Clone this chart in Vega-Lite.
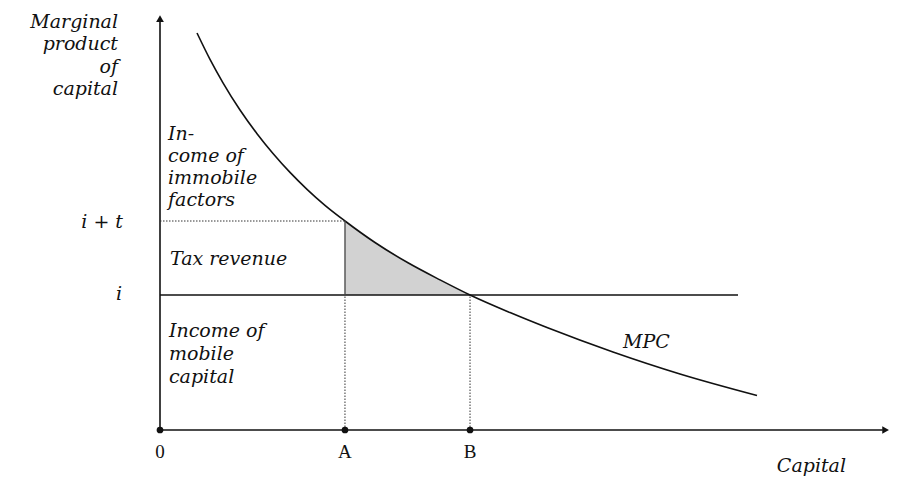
{
  "$schema": "https://vega.github.io/schema/vega-lite/v6.json",
  "width": 730,
  "height": 416,
  "autosize": {"type": "none"},
  "padding": {"left": 160, "top": 14, "right": 11, "bottom": 49},
  "background": "white",
  "config": {"view": {"stroke": null}},
  "datasets": {
    "curve": [
      {"k": 5.07, "mpk": 95.43},
      {"k": 6.85, "mpk": 89.09},
      {"k": 8.63, "mpk": 83.46},
      {"k": 10.96, "mpk": 76.92},
      {"k": 13.29, "mpk": 71.23},
      {"k": 15.48, "mpk": 66.47},
      {"k": 17.81, "mpk": 61.92},
      {"k": 20.14, "mpk": 57.86},
      {"k": 22.60, "mpk": 54.01},
      {"k": 25.34, "mpk": 50.24},
      {"k": 29.45, "mpk": 45.07},
      {"k": 33.97, "mpk": 40.19},
      {"k": 38.36, "mpk": 36.08},
      {"k": 42.47, "mpk": 32.45},
      {"k": 47.95, "mpk": 28.22},
      {"k": 53.01, "mpk": 24.62},
      {"k": 62.05, "mpk": 18.75},
      {"k": 71.23, "mpk": 13.46},
      {"k": 81.78, "mpk": 8.29}
    ],
    "shade": [
      {"k": 25.34, "mpk": 50.24},
      {"k": 29.45, "mpk": 45.07},
      {"k": 33.97, "mpk": 40.19},
      {"k": 38.36, "mpk": 36.08},
      {"k": 42.47, "mpk": 32.45}
    ],
    "solidLines": [
      {"x": 0, "x2": 0, "y": 0, "y2": 98.5},
      {"x": 0, "x2": 99, "y": 0, "y2": 0},
      {"x": 0, "x2": 79.18, "y": 32.45, "y2": 32.45}
    ],
    "edgeLine": [
      {"x": 25.34, "x2": 25.34, "y": 32.45, "y2": 50.24}
    ],
    "dottedLines": [
      {"x": 0, "x2": 25.34, "y": 50.24, "y2": 50.24},
      {"x": 25.34, "x2": 25.34, "y": 0, "y2": 32.45},
      {"x": 42.47, "x2": 42.47, "y": 0, "y2": 32.45}
    ],
    "arrowUp": [{"x": 0, "y": 98.9}],
    "arrowRight": [{"x": 99.4, "y": 0}],
    "dots": [
      {"x": 0, "y": 0},
      {"x": 25.34, "y": 0},
      {"x": 42.47, "y": 0}
    ],
    "ticksText": [
      {"x": 0, "y": -6.73, "label": "0"},
      {"x": 25.34, "y": -6.73, "label": "A"},
      {"x": 42.47, "y": -6.73, "label": "B"}
    ],
    "rightText": [
      {"x": -5.75, "y": 96.63, "label": "Marginal"},
      {"x": -5.75, "y": 91.27, "label": "product"},
      {"x": -5.75, "y": 85.91, "label": "of"},
      {"x": -5.75, "y": 80.53, "label": "capital"},
      {"x": -5.07, "y": 48.56, "label": "i + t"},
      {"x": -5.2, "y": 31.25, "label": "i"}
    ],
    "leftText": [
      {"x": 1.1, "y": 69.71, "label": "In-"},
      {"x": 1.1, "y": 64.42, "label": "come of"},
      {"x": 1.1, "y": 59.13, "label": "immobile"},
      {"x": 1.1, "y": 53.85, "label": "factors"},
      {"x": 1.37, "y": 39.66, "label": "Tax revenue"},
      {"x": 1.23, "y": 22.36, "label": "Income of"},
      {"x": 1.23, "y": 16.83, "label": "mobile"},
      {"x": 1.23, "y": 11.30, "label": "capital"},
      {"x": 63.42, "y": 19.71, "label": "MPC"},
      {"x": 84.5, "y": -10.1, "label": "Capital"}
    ]
  },
  "layer": [
    {
      "data": {"name": "shade"},
      "mark": {"type": "area", "interpolate": "monotone", "fill": "#d2d2d2", "opacity": 1},
      "encoding": {
        "x": {"field": "k", "type": "quantitative", "scale": {"domain": [0, 100], "nice": false, "zero": false}, "axis": null},
        "y": {"field": "mpk", "type": "quantitative", "scale": {"domain": [0, 100], "nice": false, "zero": false}, "axis": null},
        "y2": {"datum": 32.45}
      }
    },
    {
      "data": {"name": "curve"},
      "mark": {"type": "line", "interpolate": "monotone", "color": "#111", "strokeWidth": 1.6},
      "encoding": {
        "x": {"field": "k", "type": "quantitative"},
        "y": {"field": "mpk", "type": "quantitative"}
      }
    },
    {
      "data": {"name": "solidLines"},
      "mark": {"type": "rule", "color": "#111", "strokeWidth": 1.6},
      "encoding": {
        "x": {"field": "x", "type": "quantitative"},
        "x2": {"field": "x2"},
        "y": {"field": "y", "type": "quantitative"},
        "y2": {"field": "y2"}
      }
    },
    {
      "data": {"name": "edgeLine"},
      "mark": {"type": "rule", "color": "#444", "strokeWidth": 1.3},
      "encoding": {
        "x": {"field": "x", "type": "quantitative"},
        "x2": {"field": "x2"},
        "y": {"field": "y", "type": "quantitative"},
        "y2": {"field": "y2"}
      }
    },
    {
      "data": {"name": "dottedLines"},
      "mark": {"type": "rule", "color": "#333", "strokeWidth": 1, "strokeDash": [1.5, 1.5]},
      "encoding": {
        "x": {"field": "x", "type": "quantitative"},
        "x2": {"field": "x2"},
        "y": {"field": "y", "type": "quantitative"},
        "y2": {"field": "y2"}
      }
    },
    {
      "data": {"name": "arrowUp"},
      "mark": {"type": "point", "shape": "triangle-up", "filled": true, "color": "#111", "size": 60, "opacity": 1},
      "encoding": {
        "x": {"field": "x", "type": "quantitative"},
        "y": {"field": "y", "type": "quantitative"}
      }
    },
    {
      "data": {"name": "arrowRight"},
      "mark": {"type": "point", "shape": "triangle-right", "filled": true, "color": "#111", "size": 60, "opacity": 1},
      "encoding": {
        "x": {"field": "x", "type": "quantitative"},
        "y": {"field": "y", "type": "quantitative"}
      }
    },
    {
      "data": {"name": "dots"},
      "mark": {"type": "point", "shape": "circle", "filled": true, "color": "#111", "size": 45, "opacity": 1},
      "encoding": {
        "x": {"field": "x", "type": "quantitative"},
        "y": {"field": "y", "type": "quantitative"}
      }
    },
    {
      "data": {"name": "ticksText"},
      "mark": {"type": "text", "font": "Liberation Serif", "fontSize": 19, "align": "center", "baseline": "alphabetic", "color": "#111"},
      "encoding": {
        "x": {"field": "x", "type": "quantitative"},
        "y": {"field": "y", "type": "quantitative"},
        "text": {"field": "label"}
      }
    },
    {
      "data": {"name": "rightText"},
      "mark": {"type": "text", "font": "DejaVu Serif", "fontStyle": "italic", "fontSize": 19, "align": "right", "baseline": "alphabetic", "color": "#111"},
      "encoding": {
        "x": {"field": "x", "type": "quantitative"},
        "y": {"field": "y", "type": "quantitative"},
        "text": {"field": "label"}
      }
    },
    {
      "data": {"name": "leftText"},
      "mark": {"type": "text", "font": "DejaVu Serif", "fontStyle": "italic", "fontSize": 19, "align": "left", "baseline": "alphabetic", "color": "#111"},
      "encoding": {
        "x": {"field": "x", "type": "quantitative"},
        "y": {"field": "y", "type": "quantitative"},
        "text": {"field": "label"}
      }
    }
  ]
}
